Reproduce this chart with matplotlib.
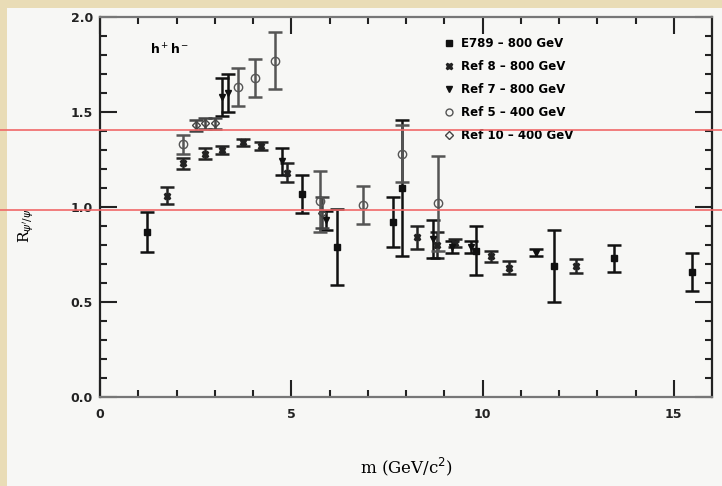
import numpy as np
import matplotlib
matplotlib.use('Agg')
import matplotlib.pyplot as plt
from matplotlib.lines import Line2D
from matplotlib.patches import Rectangle

# E789 - 800 GeV
e789_m = [1.22, 5.27, 6.2, 7.65, 7.9, 9.84, 11.88, 13.45, 15.48]
e789_r = [0.87, 1.07, 0.79, 0.92, 1.10, 0.77, 0.69, 0.73, 0.66]
e789_e = [0.105, 0.10, 0.20, 0.13, 0.36, 0.13, 0.19, 0.07, 0.10]

# Ref 8 - 800 GeV
ref8_m = [1.74, 2.16, 2.74, 3.2, 3.73, 4.22, 4.9, 8.28, 8.8, 9.27, 10.23, 10.7, 12.45]
ref8_r = [1.06, 1.23, 1.28, 1.30, 1.34, 1.32, 1.18, 0.84, 0.80, 0.81, 0.74, 0.68, 0.69]
ref8_e = [0.045, 0.03, 0.03, 0.02, 0.02, 0.02, 0.05, 0.06, 0.07, 0.02, 0.03, 0.035, 0.035]

# Ref 7 - 800 GeV
ref7_m = [3.2, 3.35, 4.75, 5.9, 8.7, 9.2, 9.7, 11.4]
ref7_r = [1.58, 1.60, 1.24, 0.93, 0.83, 0.79, 0.79, 0.76]
ref7_e = [0.10, 0.10, 0.07, 0.05, 0.10, 0.03, 0.03, 0.02]

# Ref 5 - 400 GeV
ref5_m = [2.17, 3.6, 4.05, 4.57, 5.74, 6.87, 7.9, 8.83]
ref5_r = [1.33, 1.63, 1.68, 1.77, 1.03, 1.01, 1.28, 1.02]
ref5_e = [0.05, 0.10, 0.10, 0.15, 0.16, 0.10, 0.15, 0.25]

# Ref 10 - 400 GeV
ref10_m = [2.5, 2.75, 3.0, 5.8]
ref10_r = [1.43, 1.44, 1.44, 0.97]
ref10_e = [0.03, 0.03, 0.03, 0.08]

fig = plt.figure(figsize=(7.22, 4.86), dpi=100)
fig.patch.set_facecolor('#e9dcb6')
fig.add_artist(Rectangle((7 / 722, 0), 1, 1 - 8 / 486, transform=fig.transFigure,
                         facecolor='#f7f7f5', edgecolor='none', zorder=0))

ax = fig.add_axes([100 / 722, 1 - 397 / 486, 612 / 722, 380 / 486])
ax.set_facecolor('none')

ekw = dict(linestyle='none', capsize=5, elinewidth=1.8, capthick=1.8)
ax.errorbar(e789_m, e789_r, yerr=e789_e, fmt='s', color='#111111', ms=4, **ekw)
ax.errorbar(ref8_m, ref8_r, yerr=ref8_e, fmt='X', color='#222222', ms=5, **ekw)
ax.errorbar(ref7_m, ref7_r, yerr=ref7_e, fmt='v', color='#111111', ms=5, **ekw)
ax.errorbar(ref5_m, ref5_r, yerr=ref5_e, fmt='o', color='#555555', mfc='none', ms=6, **ekw)
ax.errorbar(ref10_m, ref10_r, yerr=ref10_e, fmt='D', color='#444444', mfc='none', ms=4, **ekw)

ax.set_xlim(0, 16)
ax.set_ylim(0, 2)
ax.set_xticks([0, 5, 10, 15])
ax.set_xticks(np.arange(0, 16, 1), minor=True)
ax.set_yticks([0, 0.5, 1.0, 1.5, 2.0])
ax.set_yticks(np.arange(0, 2.01, 0.1), minor=True)
ax.set_yticklabels(['0.0', '0.5', '1.0', '1.5', '2.0'])
ax.tick_params(which='both', direction='in', top=True, right=True, width=1.5, colors='#222222')
ax.tick_params(which='major', length=12, labelsize=9, pad=5)
ax.tick_params(axis='x', which='major', pad=8)
ax.tick_params(which='minor', length=5)
for lab in ax.get_xticklabels() + ax.get_yticklabels():
    lab.set_fontweight('bold')
for s in ax.spines.values():
    s.set_linewidth(1.6)
    s.set_color('#222222')
ax.spines['bottom'].set_color('#777777')
ax.spines['top'].set_color('#777777')

ax.set_xlabel('m (GeV/c$^2$)', fontsize=12, family='DejaVu Serif')
ax.xaxis.set_label_coords(0.5, -0.155)
ax.set_ylabel("R$_{\\psi'/\\psi}$", fontsize=11, family='DejaVu Serif')
ax.yaxis.set_label_coords(-0.105, 0.45)
ax.text(1.3, 1.8, 'h$^+$h$^-$', fontsize=9, fontweight='bold')

handles = [
    Line2D([], [], marker='s', color='#111111', ls='none', ms=4),
    Line2D([], [], marker='X', color='#222222', ls='none', ms=5),
    Line2D([], [], marker='v', color='#111111', ls='none', ms=5),
    Line2D([], [], marker='o', color='#555555', mfc='none', ls='none', ms=5),
    Line2D([], [], marker='D', color='#444444', mfc='none', ls='none', ms=4),
]
labels = ['E789 \u2013 800 GeV', 'Ref 8 \u2013 800 GeV', 'Ref 7 \u2013 800 GeV',
          'Ref 5 \u2013 400 GeV', 'Ref 10 \u2013 400 GeV']
leg = ax.legend(handles, labels, loc='upper left', bbox_to_anchor=(0.545, 0.975),
                frameon=False, handlelength=0.8, handletextpad=0.6, labelspacing=0.85,
                prop={'size': 8.5, 'weight': 'bold'})

for yy in [130, 210]:
    fig.add_artist(Line2D([0, 1], [1 - yy / 486, 1 - yy / 486], transform=fig.transFigure,
                          color='#f06868', lw=1.2, zorder=10))

fig.savefig('out.png', dpi=100, facecolor=fig.get_facecolor())
